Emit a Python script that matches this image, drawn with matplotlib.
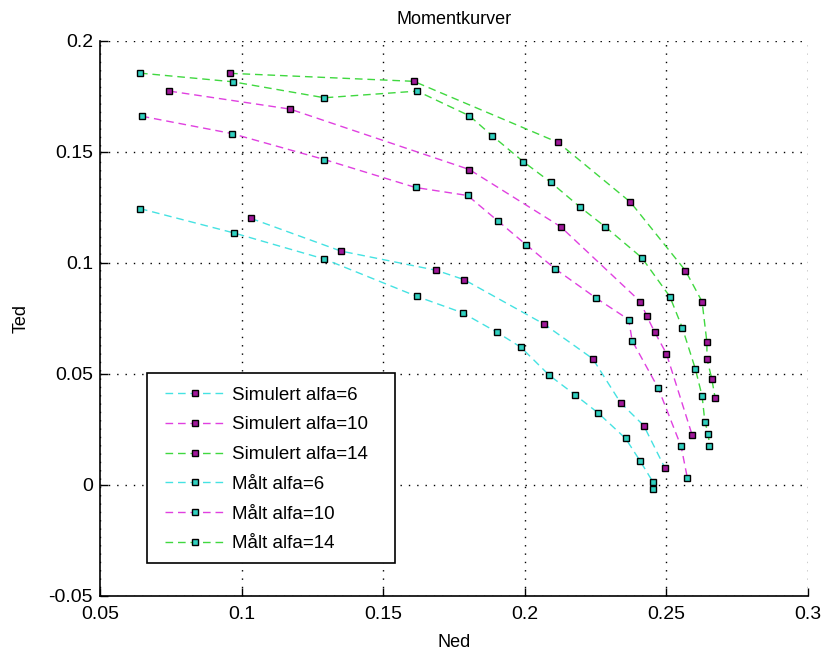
import matplotlib
matplotlib.use("Agg")
import matplotlib.pyplot as plt
from matplotlib.patches import Rectangle

plt.rcParams['font.family'] = ['Liberation Sans', 'DejaVu Sans']

# Simulated moment curves (Ned, Ted)
sim6_ned = [0.1033, 0.1350, 0.1688, 0.1786, 0.2068, 0.2240, 0.2338, 0.2420, 0.2494]
sim6_ted = [0.1200, 0.1053, 0.0966, 0.0924, 0.0724, 0.0568, 0.0370, 0.0267, 0.0078]

sim10_ned = [0.0745, 0.1171, 0.1804, 0.2126, 0.2408, 0.2431, 0.2459, 0.2500, 0.2591]
sim10_ted = [0.1773, 0.1692, 0.1420, 0.1163, 0.0825, 0.0759, 0.0687, 0.0591, 0.0224]

sim14_ned = [0.0959, 0.1608, 0.2117, 0.2373, 0.2567, 0.2626, 0.2643, 0.2643, 0.2660, 0.2672]
sim14_ted = [0.1853, 0.1817, 0.1542, 0.1273, 0.0965, 0.0825, 0.0642, 0.0568, 0.0479, 0.0392]

# Measured moment curves (Ned, Ted)
malt6_ned = [0.0641, 0.0974, 0.1292, 0.1618, 0.1780, 0.1902, 0.1986, 0.2086, 0.2177,
             0.2258, 0.2356, 0.2408, 0.2453, 0.2453]
malt6_ted = [0.1244, 0.1134, 0.1017, 0.0849, 0.0775, 0.0687, 0.0620, 0.0494, 0.0406,
             0.0325, 0.0209, 0.0106, 0.0012, -0.0018]

malt10_ned = [0.0647, 0.0965, 0.1292, 0.1614, 0.1798, 0.1907, 0.2004, 0.2108, 0.2253,
              0.2367, 0.2379, 0.2471, 0.2552, 0.2574]
malt10_ted = [0.1660, 0.1582, 0.1465, 0.1339, 0.1303, 0.1186, 0.1082, 0.0972, 0.0840,
              0.0744, 0.0649, 0.0436, 0.0173, 0.0031]

malt14_ned = [0.0641, 0.0969, 0.1292, 0.1620, 0.1804, 0.1884, 0.1994, 0.2092, 0.2194,
              0.2283, 0.2413, 0.2512, 0.2556, 0.2602, 0.2626, 0.2636, 0.2648, 0.2652]
malt14_ted = [0.1854, 0.1815, 0.1743, 0.1773, 0.1662, 0.1573, 0.1456, 0.1362, 0.1252,
              0.1163, 0.1023, 0.0848, 0.0708, 0.0523, 0.0400, 0.0282, 0.0230, 0.0173]

series_labels = ['Simulert alfa=6', 'Simulert alfa=10', 'Simulert alfa=14',
                 'Målt alfa=6', 'Målt alfa=10', 'Målt alfa=14']

x_ticks = [0.05, 0.1, 0.15, 0.2, 0.25, 0.3]
x_tick_labels = ['0.05', '0.1', '0.15', '0.2', '0.25', '0.3']
y_ticks = [-0.05, 0, 0.05, 0.1, 0.15, 0.2]
y_tick_labels = ['-0.05', '0', '0.05', '0.1', '0.15', '0.2']

line_cyan = '#45e2e2'
line_magenta = '#e040e0'
line_green = '#40d840'
face_sim = '#a0189a'
face_malt = '#30d0c0'

fig = plt.figure(figsize=(8.24, 6.55), dpi=100)
ax = fig.add_axes([0.1214, 0.0901, 0.8592, 0.8478])

curves = [
    (sim6_ned, sim6_ted, line_cyan, face_sim),
    (sim10_ned, sim10_ted, line_magenta, face_sim),
    (sim14_ned, sim14_ted, line_green, face_sim),
    (malt6_ned, malt6_ted, line_cyan, face_malt),
    (malt10_ned, malt10_ted, line_magenta, face_malt),
    (malt14_ned, malt14_ted, line_green, face_malt),
]

for (xs, ys, lc, fc), lab in zip(curves, series_labels):
    ax.plot(xs, ys, color=lc, linestyle='--', dashes=(5.5, 3.5), linewidth=1.0,
            marker='s', markersize=5, markerfacecolor=fc, markeredgecolor='black',
            markeredgewidth=1.0, label=lab, zorder=3)

ax.set_xlim(0.05, 0.3)
ax.set_ylim(-0.05, 0.2)
ax.set_xticks(x_ticks)
ax.set_xticklabels(x_tick_labels)
ax.set_yticks(y_ticks)
ax.set_yticklabels(y_tick_labels)

ax.grid(True, color='black', linestyle=(0, (1, 5)), linewidth=1.0)
ax.set_axisbelow(True)

for side in ('top', 'right'):
    ax.spines[side].set_visible(False)
for side in ('left', 'bottom'):
    ax.spines[side].set_linewidth(1.2)
ax.tick_params(direction='in', length=6, width=1, labelsize=14, top=False, right=False)
ax.tick_params(axis='x', pad=7)
ax.tick_params(axis='y', pad=5)

ax.set_title('Momentkurver', fontsize=13, pad=12)
ax.set_xlabel('Ned', fontsize=13, labelpad=8)
ax.set_ylabel('Ted', fontsize=13, labelpad=14)

# Legend box: white panel with black border, entries placed inside it
box = Rectangle((0.0664, 0.0594), 0.4167 - 0.0664, 0.4016 - 0.0594,
                transform=ax.transAxes, facecolor='white', edgecolor='black',
                linewidth=1.2, zorder=4)
ax.add_patch(box)

leg = ax.legend(loc='upper left', bbox_to_anchor=(0.0918, 0.377), fontsize=13.5,
                frameon=False, handlelength=3.2, handletextpad=0.37,
                labelspacing=0.67, borderpad=0, borderaxespad=0)
leg.set_zorder(5)

fig.savefig('out.png', dpi=100)
